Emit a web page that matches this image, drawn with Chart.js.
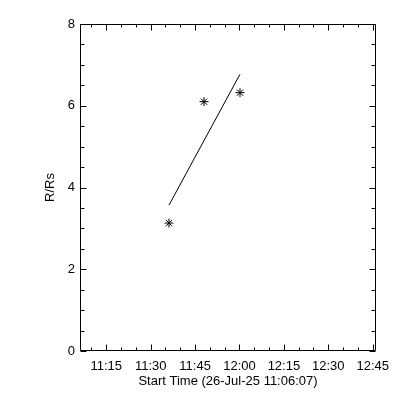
<!DOCTYPE html>
<html>
<head>
<meta charset="utf-8">
<script src="https://cdn.jsdelivr.net/npm/chart.js@4/dist/chart.umd.min.js"></script>
<style>
  html, body { margin: 0; padding: 0; background: #fff; }
  #wrap { width: 400px; height: 400px; position: relative; }
</style>
</head>
<body>
<div id="wrap"><canvas id="c" width="400" height="400"></canvas></div>
<script>
// start time of the x axis
const startTime = '11:06:07';
const startLabel = 'Start Time (26-Jul-25 11:06:07)';

// measured heights
const obsTimes = ['11:36:11', '11:48:01', '12:00:10'];
const obsHeights = [3.13, 6.10, 6.32];

// fitted line (end points)
const fitTimes = ['11:36:11', '12:00:10'];
const fitHeights = [3.57, 6.77];

// axes
const xTickLabels = ['11:15', '11:30', '11:45', '12:00', '12:15', '12:30', '12:45'];
const xMinorLabels = ['11:10', '11:15', '11:20', '11:25', '11:30', '11:35', '11:40', '11:45', '11:50', '11:55',
                      '12:00', '12:05', '12:10', '12:15', '12:20', '12:25', '12:30', '12:35', '12:40', '12:45'];
const xRange = [0, 100];   // minutes after start
const yRange = [0, 8];

function toMin(s) {
    const p = s.split(':').map(Number);
    const sec = p[0] * 3600 + p[1] * 60 + (p[2] || 0);
    const p0 = startTime.split(':').map(Number);
    return (sec - (p0[0] * 3600 + p0[1] * 60 + p0[2])) / 60;
}

const font = { family: '"Liberation Sans", Arial, sans-serif', size: 13 };

// IDL-style box with inward ticks on all four sides
const frameTicks = {
    id: 'frameTicks',
    afterDraw(chart) {
        const { ctx, chartArea: a, scales: { x, y } } = chart;
        const L = Math.round(a.left) + 0.5, R = Math.round(a.right) - 0.5;
        const T = Math.round(a.top) + 0.5, B = Math.round(a.bottom) - 0.5;
        ctx.save();
        ctx.strokeStyle = '#000';
        ctx.lineWidth = 1;
        ctx.beginPath();
        ctx.rect(L, T, R - L, B - T);
        xMinorLabels.forEach(lbl => {
            const px = Math.round(x.getPixelForValue(toMin(lbl))) + 0.5;
            const len = xTickLabels.includes(lbl) ? 6 : 3;
            ctx.moveTo(px, B); ctx.lineTo(px, B - len);
            ctx.moveTo(px, T); ctx.lineTo(px, T + len);
        });
        for (let v = yRange[0]; v <= yRange[1]; v += 0.5) {
            const py = Math.round(y.getPixelForValue(v)) + 0.5;
            const len = v % 2 === 0 ? 6 : 4;
            ctx.moveTo(L, py); ctx.lineTo(L + len, py);
            ctx.moveTo(R, py); ctx.lineTo(R - len, py);
        }
        ctx.stroke();
        ctx.restore();
    }
};

new Chart(document.getElementById('c'), {
    type: 'scatter',
    data: {
        datasets: [
            {
                data: obsTimes.map((t, i) => ({ x: toMin(t), y: obsHeights[i] })),
                pointStyle: 'star',
                pointRadius: 4.5,
                borderColor: '#000',
                backgroundColor: '#000',
                borderWidth: 1,
                showLine: false
            },
            {
                data: fitTimes.map((t, i) => ({ x: toMin(t), y: fitHeights[i] })),
                showLine: true,
                pointRadius: 0,
                borderColor: '#000',
                borderWidth: 1
            }
        ]
    },
    options: {
        responsive: false,
        animation: false,
        layout: { padding: { top: 24, right: 24, left: 0, bottom: 0 } },
        plugins: { legend: { display: false }, tooltip: { enabled: false } },
        scales: {
            x: {
                type: 'linear',
                min: xRange[0], max: xRange[1],
                grid: { display: false, drawTicks: false },
                border: { display: false },
                afterBuildTicks: s => { s.ticks = xTickLabels.map(l => ({ value: toMin(l) })); },
                afterFit: s => { s.height = 49; },
                ticks: {
                    color: '#000', font, padding: 8, maxRotation: 0, autoSkip: false,
                    callback: (v, i) => xTickLabels[i]
                },
                title: { display: true, text: startLabel, color: '#000', font, padding: { top: 0, bottom: 11 } }
            },
            y: {
                min: yRange[0], max: yRange[1],
                grid: { display: false, drawTicks: false },
                border: { display: false },
                afterFit: s => { s.width = 80; },
                ticks: { stepSize: 2, color: '#000', font, padding: 5 },
                title: { display: true, text: 'R/Rs', color: '#000', font, padding: { top: 43, bottom: 0 } }
            }
        }
    },
    plugins: [frameTicks]
});
</script>
</body>
</html>
